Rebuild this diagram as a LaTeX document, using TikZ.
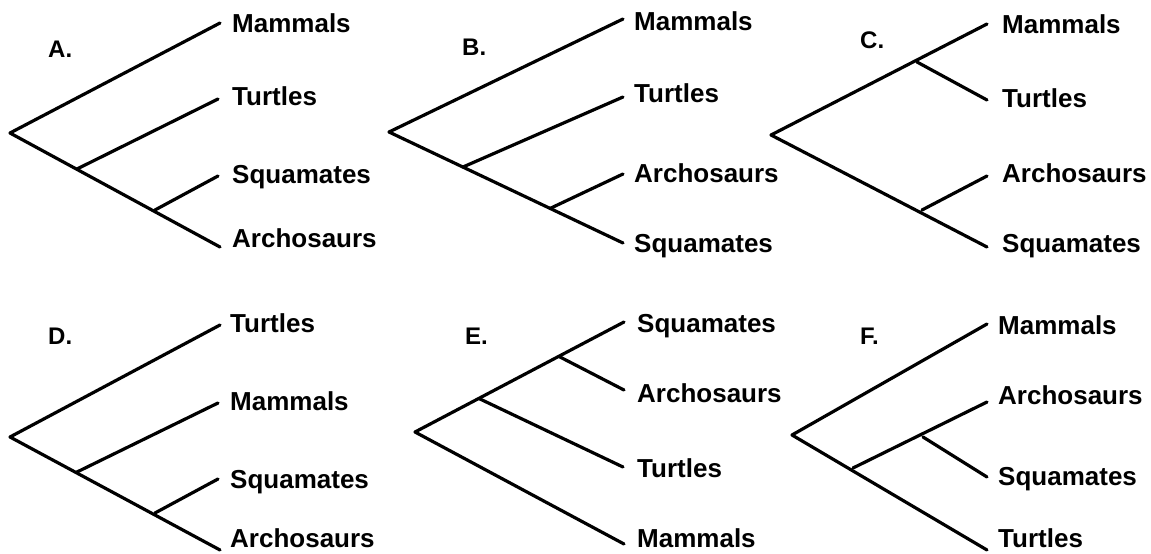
\documentclass[tikz,border=0pt]{standalone}
\usepackage{fontspec}
\setmainfont{Liberation Sans}
\begin{document}
\begin{tikzpicture}[x=1pt,y=-1pt,
  br/.style={line width=3.2pt, line cap=round, line join=round},
  lab/.style={anchor=base west, inner sep=0pt, font=\fontsize{26}{30}\selectfont\bfseries},
  ttl/.style={anchor=base west, inner sep=0pt, font=\fontsize{24}{28}\selectfont\bfseries}]
\useasboundingbox (0,0) rectangle (1151,554);
% ---------- A ----------
\node[ttl] (tA) at (48,57) {A.};
\coordinate (Ar) at (10,133);
\coordinate (A1) at (77,169);
\coordinate (A2) at (155,210);
\coordinate (Ata) at (220,23);
\coordinate (Atb) at (218,99);
\coordinate (Atc) at (218,176);
\coordinate (Atd) at (220,247);
\draw[br] (Ata) -- (Ar) -- (Atd);
\draw[br] (A1) -- (Atb);
\draw[br] (A2) -- (Atc);
\node[lab] (Aa) at (232,32) {Mammals};
\node[lab] (Ab) at (232,105) {Turtles};
\node[lab] (Ac) at (232,183) {Squamates};
\node[lab] (Ad) at (232,247) {Archosaurs};
% ---------- B ----------
\node[ttl] (tB) at (462,55) {B.};
\coordinate (Br) at (389,132);
\coordinate (B1) at (463,167);
\coordinate (B2) at (551,208);
\coordinate (Bta) at (623,19);
\coordinate (Btb) at (623,97);
\coordinate (Btc) at (623,174);
\coordinate (Btd) at (623,243);
\draw[br] (Bta) -- (Br) -- (Btd);
\draw[br] (B1) -- (Btb);
\draw[br] (B2) -- (Btc);
\node[lab] (Ba) at (634,30) {Mammals};
\node[lab] (Bb) at (634,102) {Turtles};
\node[lab] (Bc) at (634,182) {Archosaurs};
\node[lab] (Bd) at (634,252) {Squamates};
% ---------- C ----------
\node[ttl] (tC) at (860,48) {C.};
\coordinate (Cr) at (771,135);
\coordinate (C1) at (917,62);
\coordinate (C2) at (922,210);
\coordinate (Cta) at (987,24);
\coordinate (Ctb) at (987,100);
\coordinate (Ctc) at (987,176);
\coordinate (Ctd) at (987,247);
\draw[br] (Cta) -- (Cr) -- (Ctd);
\draw[br] (C1) -- (Ctb);
\draw[br] (C2) -- (Ctc);
\node[lab] (Ca) at (1002,33) {Mammals};
\node[lab] (Cb) at (1002,107) {Turtles};
\node[lab] (Cc) at (1002,182) {Archosaurs};
\node[lab] (Cd) at (1002,252) {Squamates};
% ---------- D ----------
\node[ttl] (tD) at (48,344) {D.};
\coordinate (Dr) at (10,437);
\coordinate (D1) at (77,472);
\coordinate (D2) at (155,513);
\coordinate (Dta) at (220,325);
\coordinate (Dtb) at (218,403);
\coordinate (Dtc) at (218,479);
\coordinate (Dtd) at (220,550);
\draw[br] (Dta) -- (Dr) -- (Dtd);
\draw[br] (D1) -- (Dtb);
\draw[br] (D2) -- (Dtc);
\node[lab] (Da) at (230,332) {Turtles};
\node[lab] (Db) at (230,410) {Mammals};
\node[lab] (Dc) at (230,488) {Squamates};
\node[lab] (Dd) at (230,547) {Archosaurs};
% ---------- E ----------
\node[ttl] (tE) at (465,344) {E.};
\coordinate (Er) at (415,432);
\coordinate (E1) at (480,399);
\coordinate (E2) at (560,357);
\coordinate (Eta) at (624,322);
\coordinate (Etb) at (624,390);
\coordinate (Etc) at (623,467);
\coordinate (Etd) at (624,544);
\draw[br] (Eta) -- (Er) -- (Etd);
\draw[br] (E1) -- (Etc);
\draw[br] (E2) -- (Etb);
\node[lab] (Ea) at (637,332) {Squamates};
\node[lab] (Eb) at (637,402) {Archosaurs};
\node[lab] (Ec) at (637,477) {Turtles};
\node[lab] (Ed) at (637,547) {Mammals};
% ---------- F ----------
\node[ttl] (tF) at (860,344) {F.};
\coordinate (Fr) at (792,435);
\coordinate (F1) at (853,468);
\coordinate (F2) at (923,437);
\coordinate (Fta) at (987,324);
\coordinate (Ftb) at (987,402);
\coordinate (Ftc) at (987,477);
\coordinate (Ftd) at (987,550);
\draw[br] (Fta) -- (Fr) -- (Ftd);
\draw[br] (F1) -- (Ftb);
\draw[br] (F2) -- (Ftc);
\node[lab] (Fa) at (998,334) {Mammals};
\node[lab] (Fb) at (998,404) {Archosaurs};
\node[lab] (Fc) at (998,485) {Squamates};
\node[lab] (Fd) at (998,547) {Turtles};
\end{tikzpicture}
\end{document}
